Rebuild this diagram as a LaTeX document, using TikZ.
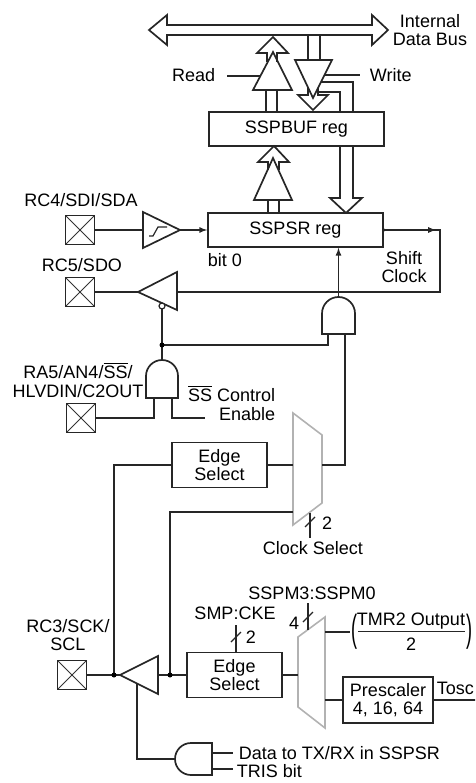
\documentclass[tikz,border=0pt]{standalone}
\usepackage{amsmath}
\usepackage{fontspec}
\setmainfont{Liberation Sans}
\usepackage{tikz}
\newcommand{\ovl}[1]{$\overline{\mbox{#1}}$}

\begin{document}
\begin{tikzpicture}[x=1pt,y=-1pt,line width=1.7pt,black!85,
  every node/.style={font=\fontsize{18}{18.5}\selectfont,inner sep=0pt,black},
  reg/.style={draw=black!85,fill=white,minimum width=175pt,minimum height=34pt},
  edgebox/.style={draw=black!85,fill=white,minimum width=95pt,minimum height=45pt,align=center},
  pad/.style={draw=black!85,minimum size=29pt,path picture={\draw[line width=1pt,black!80](path picture bounding box.north west)--(path picture bounding box.south east)(path picture bounding box.north east)--(path picture bounding box.south west);}},
  jdot/.style={circle,fill=black,minimum size=5pt},
  mux/.style={draw=gray!60,line width=1.6pt},
  slash/.style={line width=1.2pt}]
\path[use as bounding box,clip](0,0)rectangle(475,783);
% internal data bus
\draw(149,30)--(167,15)--(167,25)--(372,25)--(372,15)--(388,30)--(372,45)--(372,35)--(167,35)--(167,45)--cycle;
\node[align=center](ibus)at(430,30){Internal\\Data Bus};
% read buffer
\draw(253,90)--(273,52)--(292,90)--cycle;
\draw(267,62)--(267,53)--(257,53)--(273,37)--(288,53)--(277,53)--(277,62);
\node[anchor=east](rd)at(216,75){Read};
\coordinate(rdw)at(227,76);
\coordinate(rden)at(260,76);
\draw(rdw)--(rden);
% write buffer
\draw(308,35)--(308,60)(320,35)--(320,60);
\draw(295,60)--(332,60)--(313,98)--cycle;
\draw(308,88)--(308,95)--(298,95)--(313,110)--(328,95)--(318,95)--(318,88);
\node[anchor=west](wr)at(369,75){Write};
\coordinate(wren)at(324.5,75);
\coordinate(wrw)at(360,75);
\draw(wren)--(wrw);
\draw(321,82)--(353,82)--(353,198)--(362,198)--(346,213)--(330,198)--(340,198)--(340,92)--(318,92);
\node[reg](buf)at(296.5,129){SSPBUF reg};
\node[reg](sr)at(295.5,230){SSPSR reg};
\draw(266,90)--(266,0|-buf.north)(277,90)--(277,0|-buf.north);
% SSPSR -> SSPBUF
\draw(254,200)--(273,158)--(292,200)--cycle;
\draw(268,170)--(268,162)--(258,162)--(274,146)--(289,162)--(279,162)--(279,170);
\draw(268,200)--(268,0|-sr.north)(279,200)--(279,0|-sr.north);
% SDI
\node(sdi)at(81,200){RC4/SDI/SDA};
\node[pad](p4)at(80,230){};
\coordinate(sdiin)at(143,230);
\coordinate(sdiout)at(180,230);
\draw(143,212)--(sdiout)--(143,248)--cycle;
\draw[line width=1.2pt](149,236)--(153,236)--(158,227)--(167,227);
\draw(p4)--(sdiin);
\draw[-latex](sdiout)--(sr.west);
\node[anchor=west](b0)at(207,260){bit 0};
% SDO
\node(sdo)at(82,265){RC5/SDO};
\node[pad](p5)at(80,292){};
\coordinate(sdoout)at(138,292);
\coordinate(sdoin)at(177,292);
\draw(sdoout)--(177,272)--(177,310)--cycle;
\draw(p5)--(sdoout);
\fill(sr.east)circle(1.8pt);
\draw[-latex](sr.east)--(436,230);
\draw(430,230)--(440,230)--(440,0|-sdoin)--(sdoin);
\node[align=center](shclk)at(404,267){Shift\\Clock};
\draw[line width=1.2pt,fill=white](162,306)circle(3pt);
% clock gate
\draw(322,334)--(322,313.5)arc[start angle=180,end angle=0,radius=16.5pt]--(355,334)--cycle;
\coordinate(g1out)at(338.5,297);
\draw[-latex](g1out)--(338.5,0|-sr.south);
% SS gate
\draw(146,398)--(146,376)arc[start angle=180,end angle=0,radius=16pt]--(178,398)--cycle;
\coordinate(g2out)at(162,360);
\draw(162,309)--(g2out);
\draw(162,345)--(328,345)--(328,334);
\node[jdot](j1)at(162,345){};
\node[align=center](ra5)at(78,380){RA5/AN4/\ovl{SS}/\\HLVDIN/C2OUT};
\node[pad](p6)at(81,418){};
\draw(p6)--(154,418)--(154,398);
\draw(172,398)--(172,418)--(205,418);
\node[anchor=east,align=right](ssc)at(276,403){\ovl{SS} Control\\Enable};
% clock select
\node[edgebox](es1)at(219.5,465){Edge\\Select};
\draw[mux](293,413)--(322,435)--(322,503)--(293,525)--cycle;
\draw(es1.east)--(293,465);
\draw(322,465)--(345,465)--(345,334);
\draw(310,513)--(310,538);
\draw[slash](305,527)--(315,517);
\node(cs2)at(327,523){2};
\node(csel)at(313,548){Clock Select};
% SCK
\node[align=center](sck)at(68,635){RC3/SCK/\\SCL};
\node[pad](p3)at(72,675){};
\coordinate(sckout)at(120,675);
\draw(sckout)--(158,656)--(158,694)--cycle;
\node[edgebox](es2)at(234.5,675){Edge\\Select};
\draw(p3)--(sckout);
\draw(158,675)--(es2.west);
\draw(es1.west)--(114,465)--(114,675);
\draw(293,512)--(170,512)--(170,675);
\node[jdot](j2)at(114,675){};
\node[jdot](j3)at(170,675){};
\draw(137,683.5)--(137,759)--(175,759);
\draw(212,743)--(191,743)arc[start angle=90,end angle=270,radius=16pt]--(212,775)--cycle;
\draw(212,753)--(233,753)(212,769)--(233,769);
\node[anchor=west](dtx)at(238,753){Data to TX/RX in SSPSR};
\node[anchor=west](tris)at(236,771){TRIS bit};
\draw(236,0|-es2.north)--(236,625);
\draw[slash](231,642)--(241,632);
\node(ck2)at(251,637){2};
\node(smp)at(235,613){SMP:CKE};
% clock source
\draw[mux](298,637)--(325,617)--(325,728)--(298,707)--cycle;
\draw(es2.east)--(298,675);
\draw(308,603)--(308,630);
\draw[slash](303,622)--(313,612);
\node(sm4)at(294,623){4};
\node(sspm)at(312,593){SSPM3:SSPM0};
\node(tmrl)at(354,632){\scalebox{1}[2.1]{(}};
\node(tmr)at(411,621){TMR2 Output};
\draw[line width=1.4pt](358,631.5)--(465,631.5);
\node(tmr2)at(411,644){2};
\node(tmrr)at(469,632){\scalebox{1}[2.1]{)}};
\draw(325,632)--(tmrl.west);
\node[draw=black!85,minimum width=90pt,minimum height=46pt,align=center](ps)at(388,700){Prescaler\\4, 16, 64};
\draw(325,0|-ps.west)--(ps.west);
\draw(ps.east)--(480,0|-ps.east);
\node[anchor=west](tosc)at(436,688){Tosc};
\end{tikzpicture}
\end{document}
